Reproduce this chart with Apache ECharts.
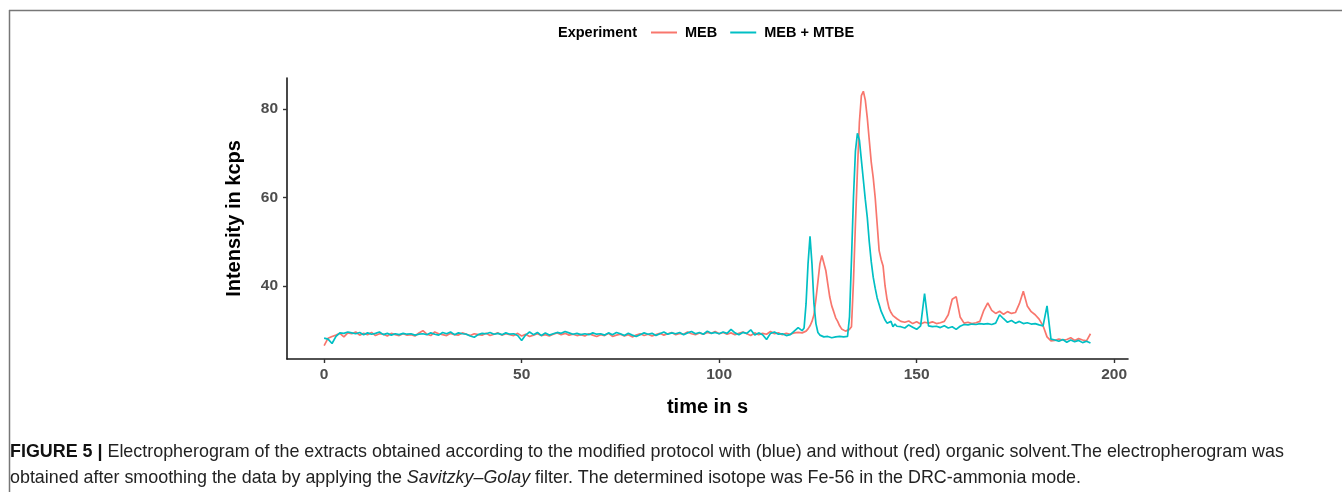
<!DOCTYPE html>
<html>
<head>
<meta charset="utf-8">
<script src="https://cdn.jsdelivr.net/npm/echarts@6/dist/echarts.min.js"></script>
<style>
  html, body { margin: 0; padding: 0; background: #fff; }
  #chart { width: 1342px; height: 492px; }
</style>
</head>
<body>
<div id="chart"></div>
<script>
// time axis (s): 1 s steps, 0.5 s steps around the peaks
const timeSec = [
  0,1,2,3,4,5,6,7,8,9,10,11,12,13,14,15,16,17,18,19,
  20,21,22,23,24,25,26,27,28,29,30,31,32,33,34,35,36,37,38,39,
  40,41,42,43,44,45,46,47,48,49,50,51,52,53,54,55,56,57,58,59,
  60,61,62,63,64,65,66,67,68,69,70,71,72,73,74,75,76,77,78,79,
  80,81,82,83,84,85,86,87,88,89,90,91,92,93,94,95,96,97,98,99,
  100,101,102,103,104,105,106,107,108,109,110,111,112,113,114,115,116,117,118,119,
  120,120.5,121,121.5,122,122.5,123,123.5,124,124.5,125,125.5,126,126.5,127,127.5,128,128.5,129,129.5,
  130,130.5,131,131.5,132,132.5,133,133.5,134,134.5,135,135.5,136,136.5,137,137.5,138,138.5,139,139.5,
  140,140.5,141,141.5,142,142.5,143,143.5,144,144.5,145,145.5,146,
  147,148,149,150,151,152,153,154,155,156,157,158,159,160,161,162,163,164,165,166,
  167,168,169,170,171,172,173,174,175,176,177,178,179,180,181,182,183,184,185,186,
  187,188,189,190,191,192,193,194
];

// MEB (without organic solvent), kcps
const mebValues = [
  26.5,28.2,28.6,28.9,29.3,28.5,29.4,29.2,29.6,28.9,29.3,29.0,29.5,28.8,29.2,29.1,28.7,29.3,29.0,28.8,
  29.2,28.9,29.0,28.7,29.4,29.9,29.1,28.8,29.6,29.2,29.0,28.8,29.3,29.0,28.9,29.4,29.1,28.8,29.2,29.0,
  28.9,29.3,28.8,29.1,29.4,28.9,29.2,29.0,28.8,29.3,28.7,29.1,28.6,28.9,29.2,28.8,29.0,28.7,29.1,29.4,
  29.0,29.3,28.9,29.1,28.8,29.0,28.7,29.2,28.9,28.6,29.0,28.8,29.3,28.6,28.9,29.1,28.7,29.0,28.5,28.9,
  29.2,28.8,29.1,28.7,29.0,29.3,28.9,29.2,29.5,29.0,29.3,29.1,29.6,29.2,29.0,29.4,29.1,29.5,29.3,29.7,
  29.2,29.5,29.1,29.4,29.0,29.3,29.6,29.2,28.8,29.4,29.0,29.3,29.1,29.7,29.2,29.4,29.0,29.3,29.1,29.4,
  29.5,29.2,29.4,29.6,29.8,30.3,31.0,32.0,33.5,37.0,41.0,45.0,46.9,46.5,43.5,40.5,37.5,35.5,34.2,32.8,
  32.0,31.0,30.3,30.0,29.8,30.2,30.2,30.8,41.0,54.0,66.0,77.0,83.0,84.0,82.0,78.0,73.0,68.0,64.5,60.0,
  54.0,48.0,46.0,44.5,40.0,37.0,35.0,34.0,33.3,33.0,32.6,32.3,32.0,
  31.8,32.1,31.5,31.9,31.4,31.8,31.6,31.9,31.5,31.7,32.0,33.5,37.0,37.6,33.0,31.6,31.8,31.5,31.7,32.0,
  34.5,36.2,34.5,33.8,34.3,33.6,34.2,33.8,34.0,36.0,38.8,35.5,34.2,33.5,32.5,31.0,28.5,27.6,27.7,28.0,
  27.8,27.9,28.3,27.7,28.1,27.8,27.6,29.2
];

// MEB + MTBE (with organic solvent), kcps
const mtbeValues = [
  28.2,28.0,27.0,28.6,29.4,29.3,29.6,29.4,29.2,29.5,29.0,29.4,29.1,29.3,29.6,29.0,29.3,28.9,29.2,29.0,
  29.3,29.1,29.2,28.9,29.1,29.2,29.0,29.4,29.1,28.9,29.5,29.2,29.6,29.0,29.4,29.2,29.1,28.7,28.4,29.0,
  29.3,29.2,29.5,29.1,29.3,29.0,29.4,29.1,29.2,28.8,27.7,28.9,29.6,29.0,29.5,28.8,29.4,28.9,29.2,29.5,
  29.3,29.7,29.4,29.1,29.3,29.0,29.2,29.0,29.4,29.1,29.2,28.9,29.4,29.0,29.5,29.2,28.8,29.3,28.9,28.6,
  29.0,29.4,29.1,29.3,28.8,29.2,29.6,29.1,29.4,29.2,29.5,29.0,29.4,29.7,29.2,29.5,29.1,29.8,29.3,29.5,
  29.2,29.6,29.3,30.2,29.4,29.0,29.5,29.3,30.1,28.9,29.4,29.0,27.9,29.3,29.6,29.1,29.2,28.8,29.0,29.8,
  30.6,30.2,29.9,30.5,36.0,45.0,51.2,45.0,36.0,31.5,29.5,28.9,28.6,28.5,28.4,28.6,28.5,28.3,28.6,28.5,
  28.4,28.6,28.3,28.5,28.4,28.6,33.0,46.0,60.0,70.5,74.5,73.0,68.5,64.0,59.5,55.5,50.0,45.5,42.0,39.5,
  37.3,35.8,34.3,33.3,32.3,31.6,31.2,32.0,30.8,31.4,30.9,31.3,30.8,
  30.5,31.2,30.7,30.2,31.0,38.3,31.0,30.8,30.9,30.6,31.0,30.5,30.8,30.2,30.9,31.3,31.2,31.4,31.3,31.5,
  31.4,31.5,31.3,31.6,33.5,32.6,31.8,32.2,31.6,32.0,31.5,31.7,31.4,31.5,31.2,31.0,35.5,28.0,27.8,27.5,
  27.9,27.3,27.8,27.4,27.7,27.2,27.5,27.1
];

const seriesNames = ['MEB', 'MEB + MTBE'];
const seriesColors = ['#F8766D', '#00BFC4'];
const xTicks = [0, 50, 100, 150, 200];
const yTicks = [40, 60, 80];

function pairs(values) {
  return timeSec.map((t, i) => [t, values[i]]);
}

const chart = echarts.init(document.getElementById('chart'), null, { renderer: 'canvas' });

const tickLabel = {
  color: '#4d4d4d',
  fontFamily: 'Liberation Sans',
  fontWeight: 'bold',
  fontSize: 15.5
};

const option = {
  backgroundColor: '#ffffff',
  animation: false,
  legend: {
    data: seriesNames,
    left: 646,
    top: 20,
    icon: 'rect',
    itemWidth: 26,
    itemHeight: 2,
    itemGap: 13,
    textStyle: {
      color: '#000',
      fontFamily: 'Liberation Sans',
      fontWeight: 'bold',
      fontSize: 14.5,
      padding: [0, 0, 0, 3]
    }
  },
  grid: {
    left: 287,
    top: 78,
    width: 841,
    height: 281
  },
  xAxis: {
    type: 'value',
    min: -9.4,
    max: 203.5,
    name: 'time in s',
    nameLocation: 'middle',
    nameGap: 38,
    nameTextStyle: {
      color: '#000',
      fontFamily: 'Liberation Sans',
      fontWeight: 'bold',
      fontSize: 20
    },
    axisLine: { onZero: false, lineStyle: { color: '#1a1a1a', width: 1.6 } },
    axisTick: { customValues: xTicks, length: 4, lineStyle: { color: '#333', width: 1.4 } },
    axisLabel: Object.assign({ customValues: xTicks, margin: 8 }, tickLabel),
    splitLine: { show: false }
  },
  yAxis: {
    type: 'value',
    min: 23.5,
    max: 87,
    name: 'Intensity in kcps',
    nameLocation: 'middle',
    nameGap: 43,
    nameTextStyle: {
      color: '#000',
      fontFamily: 'Liberation Sans',
      fontWeight: 'bold',
      fontSize: 20
    },
    axisLine: { show: true, onZero: false, lineStyle: { color: '#1a1a1a', width: 1.6 } },
    axisTick: { show: true, customValues: yTicks, length: 4, lineStyle: { color: '#333', width: 1.4 } },
    axisLabel: Object.assign({ customValues: yTicks, margin: 9 }, tickLabel),
    splitLine: { show: false }
  },
  series: seriesNames.map((name, k) => ({
    name: name,
    type: 'line',
    data: pairs(k === 0 ? mebValues : mtbeValues),
    showSymbol: false,
    color: seriesColors[k],
    lineStyle: { width: 1.7, color: seriesColors[k] },
    z: k === 0 ? 2 : 3
  })),
  graphic: [
    // figure frame
    { type: 'line', shape: { x1: 9, y1: 10.5, x2: 1342, y2: 10.5 }, style: { stroke: '#777', lineWidth: 1.5 } },
    { type: 'line', shape: { x1: 9.5, y1: 10, x2: 9.5, y2: 492 }, style: { stroke: '#777', lineWidth: 1.5 } },
    {
      type: 'text', left: 558, top: 25,
      style: {
        text: 'Experiment', fill: '#000',
        font: 'bold 14.5px "Liberation Sans"'
      }
    },
    {
      type: 'text', left: 10, top: 439,
      style: {
        text: '{b|FIGURE 5 |} Electropherogram of the extracts obtained according to the modified protocol with (blue) and without (red) organic solvent.The electropherogram was\n' +
              'obtained after smoothing the data by applying the {i|Savitzky–Golay} filter. The determined isotope was Fe-56 in the DRC-ammonia mode.',
        fill: '#222',
        font: '17.9px "Liberation Sans"',
        lineHeight: 26,
        rich: {
          b: { font: 'bold 17.9px "Liberation Sans"', fill: '#111', lineHeight: 26 },
          i: { font: 'italic 17.9px "Liberation Sans"', fill: '#222', lineHeight: 26 }
        }
      }
    }
  ]
};

chart.setOption(option);
</script>
</body>
</html>
